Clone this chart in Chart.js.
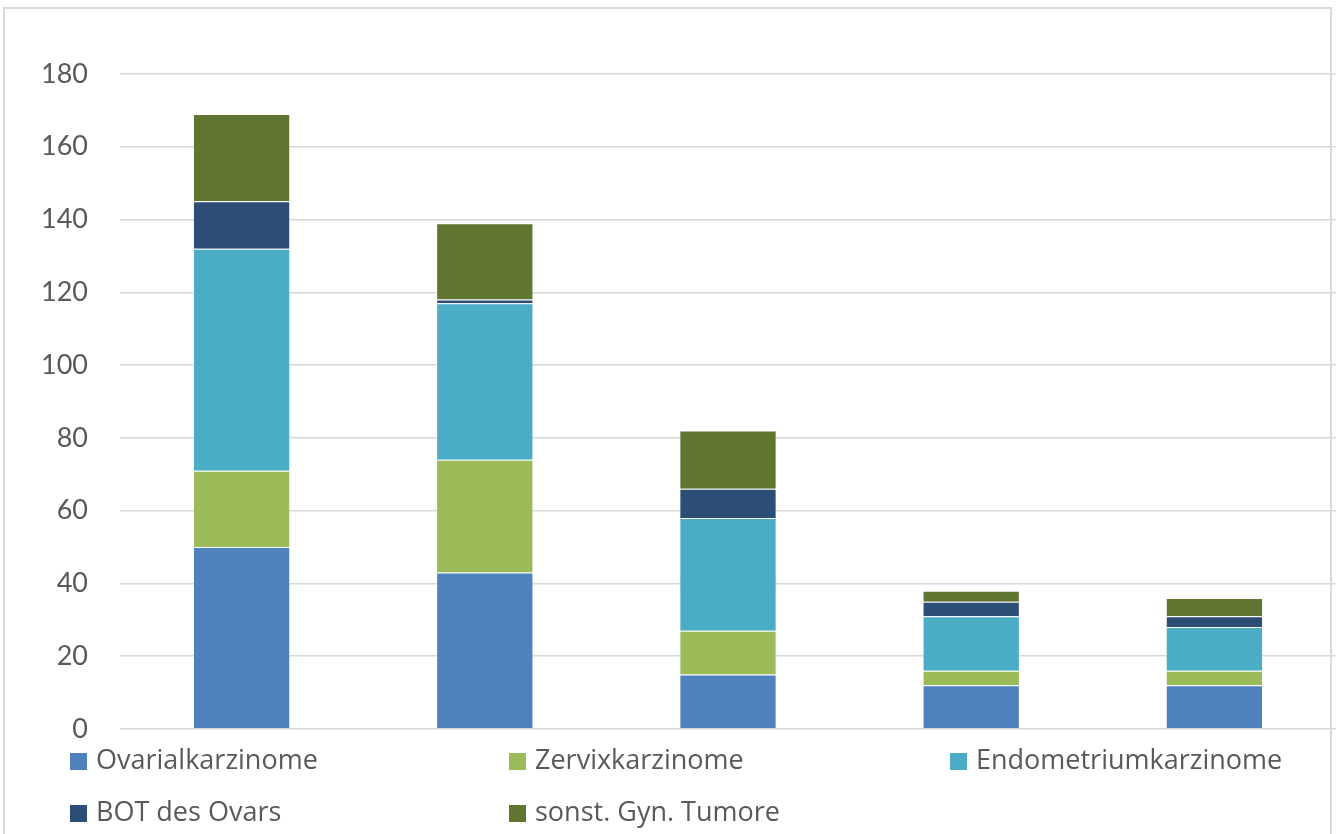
<!DOCTYPE html>
<html lang="de">
<head>
<meta charset="utf-8">
<title>Gynäkologische Tumoren</title>
<script src="https://cdn.jsdelivr.net/npm/chart.js@4/dist/chart.umd.min.js"></script>
<style>
    html, body { margin: 0; padding: 0; background: #fff; overflow: hidden; }
    #frame {
        position: absolute; left: 3px; top: 7px; width: 1329px; height: 900px;
        border: 2px solid #D9D9D9; box-sizing: border-box;
    }
    #wrap { position: absolute; left: 0; top: 0; width: 1336px; height: 834px; }
    #legend {
        position: absolute; left: 0; top: 0; width: 1336px; height: 834px;
        font-family: "Open Sans", Lato, sans-serif; font-size: 27px; color: #595959;
        pointer-events: none;
    }
    .item { position: absolute; white-space: nowrap; line-height: 30px; }
    .box { display: inline-block; width: 17px; height: 17px; margin-right: 9px; vertical-align: -1px; }
</style>
</head>
<body>
<div id="frame"></div>
<div id="wrap"><canvas id="myChart1" width="1336" height="834"></canvas></div>
<div id="legend"></div>
<script>
// Kategorien (keine Beschriftung sichtbar im Original)
const kategorien = ['1', '2', '3', '4', '5'];

// Werte pro Tumorart
const ovarial = [50, 43, 15, 12, 12];
const zervix = [21, 31, 12, 4, 4];
const endometrium = [61, 43, 31, 15, 12];
const bot = [13, 1, 8, 4, 3];
const sonstige = [24, 21, 16, 3, 5];

const serienNamen = ['Ovarialkarzinome', 'Zervixkarzinome', 'Endometriumkarzinome', 'BOT des Ovars', 'sonst. Gyn. Tumore'];
const serienFarben = ['#4F81BD', '#9BBB59', '#4BACC6', '#2C4D75', '#5F7530'];
const yTicks = [0, 20, 40, 60, 80, 100, 120, 140, 160, 180];

document.addEventListener('DOMContentLoaded', function () {
    const ctx1 = document.getElementById('myChart1').getContext('2d');
    const werte = [ovarial, zervix, endometrium, bot, sonstige];

    const datasets = serienNamen.map(function (name, i) {
        return {
            label: name,
            data: werte[i],
            backgroundColor: serienFarben[i],
            borderColor: 'rgba(255, 255, 255, 0.25)',
            borderWidth: 1,
            categoryPercentage: 1.0,
            barPercentage: 0.4
        };
    });

    new Chart(ctx1, {
        type: 'bar',
        data: { labels: kategorien, datasets: datasets },
        options: {
            responsive: false,
            animation: false,
            layout: { padding: { left: 0, right: 0, top: 74, bottom: 105 } },
            plugins: { legend: { display: false }, tooltip: { enabled: false } },
            scales: {
                x: { stacked: true, display: false },
                y: {
                    stacked: true,
                    min: 0,
                    max: 180,
                    afterBuildTicks: function (axis) {
                        axis.ticks = yTicks.map(v => ({ value: v }));
                    },
                    afterFit: function (axis) { axis.width = 120; },
                    grid: { color: '#D9D9D9', lineWidth: 1.5, drawTicks: false },
                    border: { display: false },
                    ticks: {
                        padding: 32,
                        color: '#595959',
                        font: { family: 'Lato, "Open Sans", sans-serif', size: 27 }
                    }
                }
            }
        }
    });

    // Legende im Raster (3 Spalten) wie im Original
    const legende = document.getElementById('legend');
    const spaltenX = [70, 509, 950];
    const zeilenY = [744, 796];
    serienNamen.forEach(function (name, i) {
        const el = document.createElement('div');
        el.className = 'item';
        el.style.left = spaltenX[i % 3] + 'px';
        el.style.top = zeilenY[Math.floor(i / 3)] + 'px';
        el.innerHTML = '<span class="box" style="background:' + serienFarben[i] + '"></span>' + name;
        legende.appendChild(el);
    });
});
</script>
</body>
</html>
